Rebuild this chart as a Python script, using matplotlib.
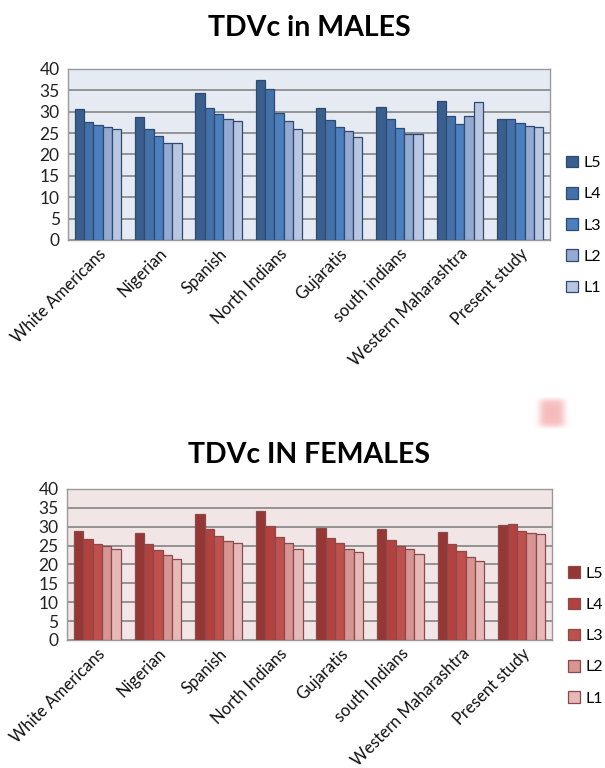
import matplotlib
matplotlib.use("Agg")
import matplotlib.pyplot as plt
import numpy as np

plt.rcParams['font.family'] = ['Lato', 'DejaVu Sans']

# populations compared in both charts
groups_m = ["White Americans", "Nigerian", "Spanish", "North Indians",
            "Gujaratis", "south indians", "Western Maharashtra", "Present study"]
groups_f = ["White Americans", "Nigerian", "Spanish", "North Indians",
            "Gujaratis", "south Indians", "Western Maharashtra", "Present study"]
levels = ["L5", "L4", "L3", "L2", "L1"]

# TDVc, males (one list per vertebra level, in group order)
male_L5 = [30.6, 28.7, 34.3, 37.4, 30.8, 31.0, 32.4, 28.2]
male_L4 = [27.5, 26.0, 30.8, 35.4, 28.0, 28.4, 29.0, 28.2]
male_L3 = [26.9, 24.4, 29.5, 29.8, 26.5, 26.2, 27.2, 27.4]
male_L2 = [26.5, 22.6, 28.4, 27.8, 25.4, 24.8, 29.0, 26.7]
male_L1 = [26.0, 22.6, 27.8, 26.0, 24.0, 24.7, 32.3, 26.5]

# TDVc, females
female_L5 = [29.0, 28.4, 33.5, 34.2, 29.7, 29.3, 28.7, 30.4]
female_L4 = [26.8, 25.3, 29.5, 30.2, 27.1, 26.6, 25.4, 30.6]
female_L3 = [25.3, 23.8, 27.5, 27.3, 25.8, 24.9, 23.6, 28.8]
female_L2 = [24.9, 22.5, 26.2, 25.8, 24.2, 24.1, 21.9, 28.4]
female_L1 = [24.2, 21.4, 25.6, 24.1, 23.4, 22.9, 21.0, 28.2]

blues = ["#3a5f8e", "#4471aa", "#4b7fbd", "#95aad0", "#b8c6e1"]
reds = ["#953735", "#b14240", "#c0504d", "#d69593", "#e6b9b8"]


def bar_chart(ax, groups, series, colors, edge, face, title, pad):
    x = np.arange(len(groups))
    w = 0.154
    for i, (vals, c) in enumerate(zip(series, colors)):
        ax.bar(x + (i - 2) * w, vals, w, color=c, edgecolor=edge,
               linewidth=0.9, label=levels[i], zorder=3)
    ax.set_facecolor(face)
    ax.set_xlim(-0.5, len(groups) - 0.5)
    ax.set_ylim(0, 40)
    ax.set_yticks(range(0, 41, 5))
    ax.yaxis.grid(True, color="#8c8c8c", linewidth=1.3, zorder=0)
    ax.set_axisbelow(True)
    ax.tick_params(axis='y', length=0, labelsize=12.5, colors="#222222", pad=6)
    ax.tick_params(axis='x', length=0, labelsize=12, colors="#111111", pad=4)
    ax.set_xticks(x)
    ax.set_xticklabels(groups, rotation=45, ha='right', va='top',
                       rotation_mode='anchor')
    for s in ax.spines.values():
        s.set_color("#9a9a9a")
        s.set_linewidth(1.0)
    ax.set_title(title, fontsize=20.5, fontweight='bold', pad=pad)
    ax.legend(loc='upper left', bbox_to_anchor=(1.02, 0.53),
              frameon=False, fontsize=11.5, handlelength=0.75,
              handleheight=0.75, handletextpad=0.35, labelspacing=1.05,
              borderaxespad=0)


fig = plt.figure(figsize=(6.05, 7.68), dpi=100)

ax1 = fig.add_axes([0.1124, 0.6875, 0.797, 0.2227])
bar_chart(ax1, groups_m, [male_L5, male_L4, male_L3, male_L2, male_L1],
          blues, "#2e4a70", "#e6ebf3", "TDVc in MALES", 24)

ax2 = fig.add_axes([0.1107, 0.1667, 0.8017, 0.1966])
bar_chart(ax2, groups_f, [female_L5, female_L4, female_L3, female_L2, female_L1],
          reds, "#8a4a4a", "#f2e5e5", "TDVc IN FEMALES", 19)

# soft pink smudge at the right edge between the two charts
smudge = fig.add_axes([530 / 605, 1 - 429 / 768, 44 / 605, 32 / 768])
u = np.linspace(-1, 1, 60)
v = np.linspace(-1, 1, 30)
glow = np.exp(-(u[None, :] / 0.6) ** 4) * np.exp(-(v[:, None] / 0.9) ** 6)
rgba = np.zeros((30, 60, 4))
rgba[..., :3] = np.array([246, 188, 188]) / 255
rgba[..., 3] = glow
smudge.imshow(rgba, aspect='auto')
smudge.axis('off')

fig.savefig("out.png", dpi=100)
